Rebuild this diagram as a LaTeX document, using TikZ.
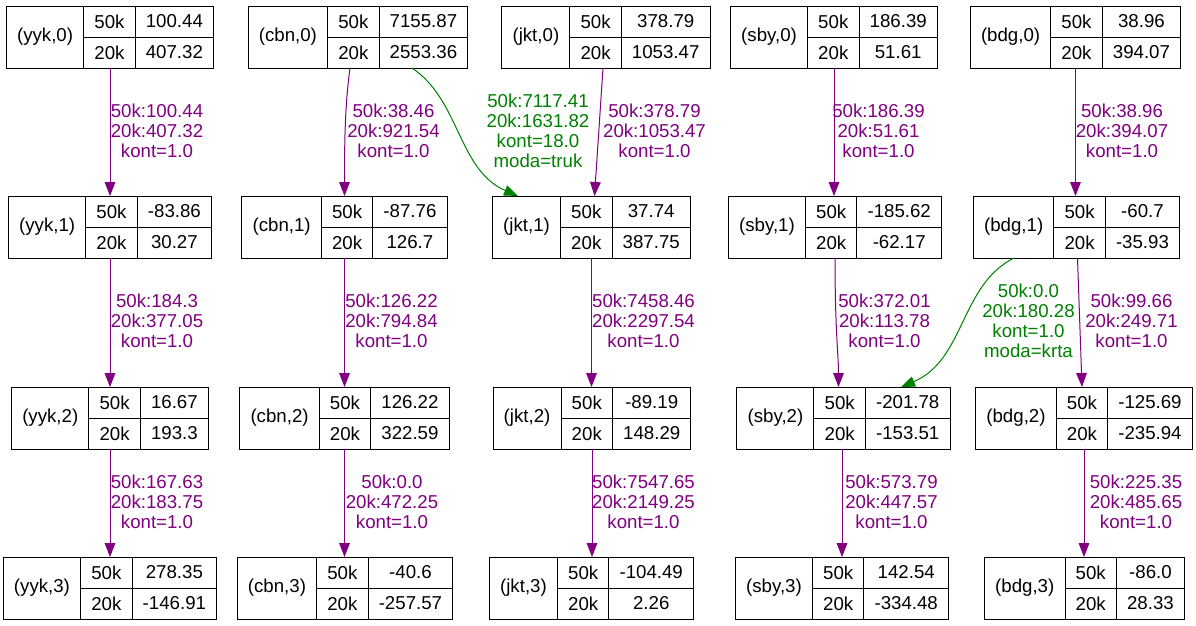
\documentclass[tikz,border=0pt]{standalone}
\usepackage{fontspec}
\setmainfont{Liberation Sans}
\usetikzlibrary{arrows.meta,calc}
\definecolor{ep}{HTML}{800080}
\definecolor{eg}{HTML}{008000}
\newcommand\recfont{\fontsize{14}{15}\selectfont}
\newdimen\recwl \newdimen\recwm \newdimen\recwv \newdimen\recwb \newdimen\rectot
\newcommand\rec[6]{%
 \begin{pgfinterruptpicture}\recfont
 \settowidth\recwl{#4}\global\advance\recwl by 16pt
 \settowidth\recwm{50k}\global\advance\recwm by 16pt
 \settowidth\recwv{#5}\settowidth\recwb{#6}\ifdim\recwb>\recwv \recwv=\recwb\fi
 \global\advance\recwv by 16pt
 \global\rectot=\dimexpr\recwl+\recwm+\recwv\relax
 \end{pgfinterruptpicture}%
 \node[recbox, minimum width=\the\rectot, anchor=north] (#1) at (#2,#3) {};
 \node[cell, minimum width=\the\recwl, minimum height=46.5pt, anchor=north west] (#1-l) at (#1.north west) {#4};
 \node[cell, minimum width=\the\recwm, anchor=north west] (#1-a) at (#1-l.north east) {50k};
 \node[cell, minimum width=\the\recwm, anchor=north west] (#1-b) at (#1-a.south west) {20k};
 \node[cell, minimum width=\the\recwv, anchor=north west] (#1-c) at (#1-a.north east) {#5};
 \node[cell, minimum width=\the\recwv, anchor=north west] (#1-d) at (#1-c.south west) {#6};
}
\begin{document}
\begin{tikzpicture}[x=0.75pt,y=-0.75pt,
  every node/.style={font=\recfont},
  recbox/.style={draw, line width=0.75pt, inner sep=0pt, outer sep=0pt, minimum height=46.5pt},
  cell/.style={draw, line width=0.75pt, inner sep=0pt, outer sep=0pt, minimum height=23.25pt},
  elab/.style={align=center, inner sep=0pt},
  pe/.style={draw=ep, line width=0.75pt, -{Triangle[length=10.5pt,width=8pt]}},
  ge/.style={draw=eg, line width=0.75pt, -{Triangle[length=10.5pt,width=8pt]}}]
\fill[white] (0,0) rectangle (1196,625);
\useasboundingbox (0,0) rectangle (1196,625);

\rec{yyk0}{110}{6}{(yyk,0)}{100.44}{407.32}
\rec{cbn0}{358}{6}{(cbn,0)}{7155.87}{2553.36}
\rec{jkt0}{606}{6}{(jkt,0)}{378.79}{1053.47}
\rec{sby0}{834}{6}{(sby,0)}{186.39}{51.61}
\rec{bdg0}{1075.5}{6}{(bdg,0)}{38.96}{394.07}
\rec{yyk1}{110}{196}{(yyk,1)}{-83.86}{30.27}
\rec{cbn1}{344.5}{196}{(cbn,1)}{-87.76}{126.7}
\rec{jkt1}{591.5}{196}{(jkt,1)}{37.74}{387.75}
\rec{sby1}{835}{196}{(sby,1)}{-185.62}{-62.17}
\rec{bdg1}{1076.5}{196}{(bdg,1)}{-60.7}{-35.93}
\rec{yyk2}{110}{387}{(yyk,2)}{16.67}{193.3}
\rec{cbn2}{344.5}{387}{(cbn,2)}{126.22}{322.59}
\rec{jkt2}{592}{387}{(jkt,2)}{-89.19}{148.29}
\rec{sby2}{843.5}{387}{(sby,2)}{-201.78}{-153.51}
\rec{bdg2}{1084}{387}{(bdg,2)}{-125.69}{-235.94}
\rec{yyk3}{110}{557}{(yyk,3)}{278.35}{-146.91}
\rec{cbn3}{345}{557}{(cbn,3)}{-40.6}{-257.57}
\rec{jkt3}{591.5}{557}{(jkt,3)}{-104.49}{2.26}
\rec{sby3}{842}{557}{(sby,3)}{142.54}{-334.48}
\rec{bdg3}{1084.5}{557}{(bdg,3)}{-86.0}{28.33}

% edges row 0 -> 1
\draw[pe] (yyk0.south) -- (yyk1.north);
\draw[pe] ($(cbn0.south)+(-8,0)$) .. controls (345,105) and (344.5,140) .. (cbn1.north);
\draw[ge] ($(cbn0.south)+(54,0)$) .. controls (460,100) and (458,170) .. ($(jkt1.north)+(-73.5,0)$);
\draw[pe] ($(jkt0.south)+(-3,0)$) -- ($(jkt1.north)+(3,0)$);
\draw[pe] (sby0.south) -- (sby0.south |- sby1.north);
\draw[pe] (bdg0.south) -- (bdg0.south |- bdg1.north);
% edges row 1 -> 2
\draw[pe] (yyk1.south) -- (yyk2.north);
\draw[pe] (cbn1.south) -- (cbn2.north);
\draw[pe] (jkt1.south) -- (jkt1.south |- jkt2.north);
\draw[pe] (sby1.south) .. controls (835,330) and (838.5,355) .. ($(sby2.north)+(-5,0)$);
\draw[ge] ($(bdg1.south)+(-62.5,0)$) .. controls (960,285) and (965,360) .. ($(sby2.north)+(57.5,0)$);
\draw[pe] ($(bdg1.south)+(1,0)$) -- ($(bdg2.north)+(-2,0)$);
% edges row 2 -> 3
\draw[pe] (yyk2.south) -- (yyk3.north);
\draw[pe] (cbn2.south) -- (cbn2.south |- cbn3.north);
\draw[pe] (jkt2.south) -- (jkt2.south |- jkt3.north);
\draw[pe] ($(sby2.south)+(-1.5,0)$) -- (sby3.north);
\draw[pe] (bdg2.south) -- (bdg2.south |- bdg3.north);

% edge labels
\node[elab, text=ep] (l01a) at (157,131) {50k:100.44\\20k:407.32\\kont=1.0};
\node[elab, text=ep] (l01b) at (393.5,131) {50k:38.46\\20k:921.54\\kont=1.0};
\node[elab, text=eg] (l01c) at (538,130.5) {50k:7117.41\\20k:1631.82\\kont=18.0\\moda=truk};
\node[elab, text=ep] (l01d) at (654.5,131) {50k:378.79\\20k:1053.47\\kont=1.0};
\node[elab, text=ep] (l01e) at (878.5,131) {50k:186.39\\20k:51.61\\kont=1.0};
\node[elab, text=ep] (l01f) at (1122,131) {50k:38.96\\20k:394.07\\kont=1.0};

\node[elab, text=ep] (l12a) at (157,321) {50k:184.3\\20k:377.05\\kont=1.0};
\node[elab, text=ep] (l12b) at (391.5,321) {50k:126.22\\20k:794.84\\kont=1.0};
\node[elab, text=ep] (l12c) at (643.5,321) {50k:7458.46\\20k:2297.54\\kont=1.0};
\node[elab, text=ep] (l12d) at (884.5,321) {50k:372.01\\20k:113.78\\kont=1.0};
\node[elab, text=eg] (l12e) at (1028.5,321) {50k:0.0\\20k:180.28\\kont=1.0\\moda=krta};
\node[elab, text=ep] (l12f) at (1131.5,321) {50k:99.66\\20k:249.71\\kont=1.0};

\node[elab, text=ep] (l23a) at (157,502) {50k:167.63\\20k:183.75\\kont=1.0};
\node[elab, text=ep] (l23b) at (392,502) {50k:0.0\\20k:472.25\\kont=1.0};
\node[elab, text=ep] (l23c) at (643.5,502) {50k:7547.65\\20k:2149.25\\kont=1.0};
\node[elab, text=ep] (l23d) at (891.5,502) {50k:573.79\\20k:447.57\\kont=1.0};
\node[elab, text=ep] (l23e) at (1136,502) {50k:225.35\\20k:485.65\\kont=1.0};
\end{tikzpicture}
\end{document}
